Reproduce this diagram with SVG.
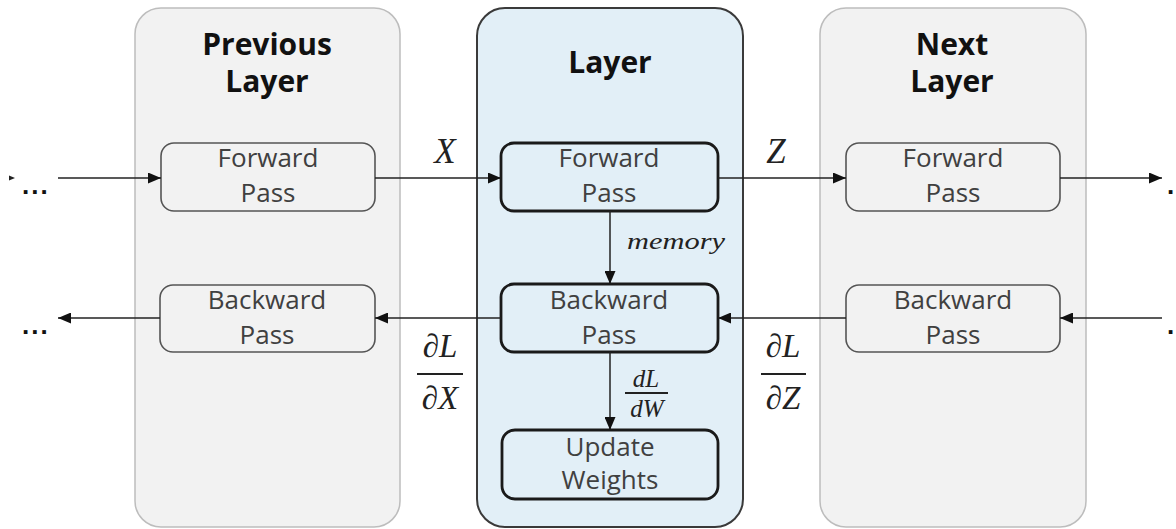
<svg xmlns="http://www.w3.org/2000/svg" width="1176" height="529" viewBox="0 0 1176 529">
  <defs>
    <marker id="arrow" markerUnits="userSpaceOnUse" markerWidth="13" markerHeight="11" refX="13" refY="5.5" orient="auto">
      <path d="M0,0 L13,5.5 L0,11 z" fill="#111"/>
    </marker>
    <style>
      .panel { fill: #f2f2f2; stroke: #bdbdbd; stroke-width: 1.5; }
      .panel-main { fill: #e2eff7; stroke: #3a3a3a; stroke-width: 2; }
      .box { fill: #f2f2f2; stroke: #555; stroke-width: 1.6; }
      .box-main { fill: #e2eff7; stroke: #1a1a1a; stroke-width: 2.8; }
      .title { font-family: "Open Sans", "Noto Sans", sans-serif; font-weight: bold; font-size: 30px; fill: #111; text-anchor: middle; }
      .label { font-family: "Open Sans", "Noto Sans", sans-serif; font-size: 26px; fill: #404040; text-anchor: middle; }
      .math { font-family: "Liberation Serif", "DejaVu Serif", serif; font-style: italic; fill: #222; text-anchor: middle; }
      .dots { font-family: "Liberation Sans", sans-serif; font-weight: bold; font-size: 26px; fill: #111; letter-spacing: 2px; }
      .conn line { stroke: #222; stroke-width: 1.5; }
      .frac { stroke: #222; stroke-width: 2; }
    </style>
  </defs>

  <rect width="1176" height="529" fill="#ffffff"/>

  <!-- Previous layer column -->
  <g id="previous-layer">
    <rect class="panel" x="135" y="8" width="265" height="519" rx="26"/>
    <text class="title" x="267" y="55">Previous</text>
    <text class="title" x="267" y="92">Layer</text>
  </g>
  <g id="prev-forward">
    <rect class="box" x="161" y="143" width="214" height="68" rx="13"/>
    <text class="label" x="268" y="167">Forward</text>
    <text class="label" x="268" y="202">Pass</text>
  </g>
  <g id="prev-backward">
    <rect class="box" x="160" y="285" width="215" height="67" rx="13"/>
    <text class="label" x="267" y="309">Backward</text>
    <text class="label" x="267" y="344">Pass</text>
  </g>

  <!-- Current layer column -->
  <g id="layer">
    <rect class="panel-main" x="477" y="8" width="266" height="519" rx="28"/>
    <text class="title" x="610" y="73">Layer</text>
  </g>
  <g id="layer-forward">
    <rect class="box-main" x="501" y="143" width="217" height="68" rx="13"/>
    <text class="label" x="609" y="167">Forward</text>
    <text class="label" x="609" y="202">Pass</text>
  </g>
  <g id="layer-backward">
    <rect class="box-main" x="501" y="284" width="217" height="68" rx="13"/>
    <text class="label" x="609" y="309">Backward</text>
    <text class="label" x="609" y="344">Pass</text>
  </g>
  <g id="update-weights">
    <rect class="box-main" x="502" y="430" width="216" height="69" rx="13"/>
    <text class="label" x="610" y="456" font-size="24">Update</text>
    <text class="label" x="610" y="489" font-size="24">Weights</text>
  </g>

  <!-- Next layer column -->
  <g id="next-layer">
    <rect class="panel" x="820" y="8" width="266" height="519" rx="26"/>
    <text class="title" x="952" y="55">Next</text>
    <text class="title" x="952" y="92">Layer</text>
  </g>
  <g id="next-forward">
    <rect class="box" x="846" y="143" width="214" height="68" rx="13"/>
    <text class="label" x="953" y="167">Forward</text>
    <text class="label" x="953" y="202">Pass</text>
  </g>
  <g id="next-backward">
    <rect class="box" x="846" y="285" width="214" height="67" rx="13"/>
    <text class="label" x="953" y="309">Backward</text>
    <text class="label" x="953" y="344">Pass</text>
  </g>

  <!-- Connectors -->
  <g id="connectors" class="conn">
    <line x1="58" y1="178" x2="161" y2="178" marker-end="url(#arrow)"/>
    <line x1="375" y1="178" x2="501" y2="178" marker-end="url(#arrow)"/>
    <line x1="718" y1="178" x2="846" y2="178" marker-end="url(#arrow)"/>
    <line x1="1060" y1="178" x2="1162" y2="178" marker-end="url(#arrow)"/>
    <line x1="610" y1="211" x2="610" y2="284" marker-end="url(#arrow)"/>
    <line x1="610" y1="352" x2="610" y2="430" marker-end="url(#arrow)"/>
    <line x1="1162" y1="318" x2="1060" y2="318" marker-end="url(#arrow)"/>
    <line x1="846" y1="318" x2="718" y2="318" marker-end="url(#arrow)"/>
    <line x1="501" y1="318" x2="375" y2="318" marker-end="url(#arrow)"/>
    <line x1="160" y1="318" x2="58" y2="318" marker-end="url(#arrow)"/>
    <!-- tip of an incoming arrowhead at the left edge -->
    <path d="M9,175.5 L15,178 L9,180.5 z" fill="#222"/>
  </g>

  <!-- Continuation dots -->
  <g id="continuation">
    <text class="dots" x="22" y="194">...</text>
    <text class="dots" x="22" y="334">...</text>
    <text class="dots" x="1167" y="194">.</text>
    <text class="dots" x="1167" y="334">.</text>
  </g>

  <!-- Signal labels -->
  <g id="labels">
    <text class="math" x="445" y="163" font-size="35">X</text>
    <text class="math" x="776" y="163" font-size="35">Z</text>
    <text class="math" x="676" y="249" font-size="24" textLength="98" lengthAdjust="spacingAndGlyphs">memory</text>

    <text class="math" x="646" y="387" font-size="25">dL</text>
    <line class="frac" x1="625" y1="393" x2="668" y2="393" style="stroke-width:1.8"/>
    <text class="math" x="647" y="417" font-size="25">dW</text>

    <text class="math" x="440" y="357" font-size="33">∂L</text>
    <line class="frac" x1="417" y1="374" x2="463" y2="374"/>
    <text class="math" x="440" y="409" font-size="33">∂X</text>

    <text class="math" x="783" y="357" font-size="33">∂L</text>
    <line class="frac" x1="761" y1="374" x2="806" y2="374"/>
    <text class="math" x="783" y="409" font-size="33">∂Z</text>
  </g>
</svg>
